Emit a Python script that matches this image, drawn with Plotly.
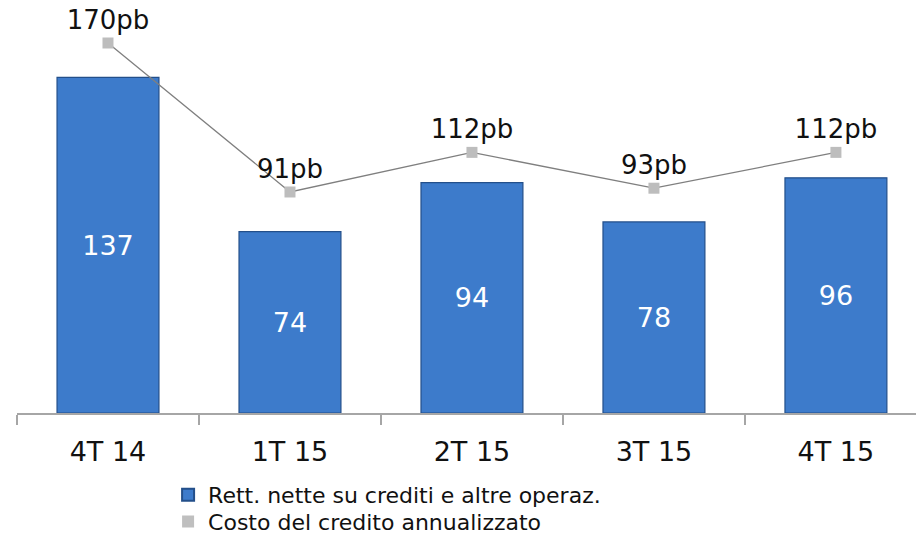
import plotly.graph_objects as go

# Quarterly data
quarters = ["4T 14", "1T 15", "2T 15", "3T 15", "4T 15"]
rettifiche = [137, 74, 94, 78, 96]          # net adjustments (bars)
costo_credito = [170, 91, 112, 93, 112]      # annualised cost of credit, bps (line)
costo_labels = [f"{v}pb" for v in costo_credito]

FONT = "DejaVu Sans"

fig = go.Figure()

fig.add_trace(go.Bar(
    x=quarters, y=rettifiche,
    name="Rett. nette su crediti e altre operaz.",
    marker=dict(color="#3D7BCB", line=dict(color="#234F8A", width=1.2)),
    width=0.56,
    text=[str(v) for v in rettifiche],
    textposition="inside", insidetextanchor="middle",
    textfont=dict(family=FONT, size=27, color="white"),
    yaxis="y", legend="legend",
))

fig.add_trace(go.Scatter(
    x=quarters, y=costo_credito,
    mode="lines+markers+text",
    line=dict(color="#7F7F7F", width=1.3),
    marker=dict(symbol="square", size=11, color="#BDBDBD"),
    text=costo_labels, textposition="top center",
    textfont=dict(family=FONT, size=26, color="#111111"),
    yaxis="y2", showlegend=False, cliponaxis=False,
))

# legend-only entry for the line series (square swatch)
fig.add_trace(go.Scatter(
    x=[None], y=[None], mode="markers",
    name="Costo del credito annualizzato",
    marker=dict(symbol="square", size=17, color="#BFBFBF"),
    yaxis="y2", legend="legend2",
))

legend_common = dict(
    xref="container", yref="container",
    xanchor="left", yanchor="top", orientation="v",
    font=dict(family=FONT, size=22, color="#111111"),
    itemsizing="constant", itemwidth=30,
    bgcolor="rgba(0,0,0,0)",
)

fig.update_layout(
    width=916, height=536,
    margin=dict(l=17, r=0, t=10, b=123, autoexpand=False),
    paper_bgcolor="white", plot_bgcolor="white",
    font=dict(family=FONT, color="#111111"),
    xaxis=dict(
        range=[-0.5, 4.44], automargin=False,
        showline=True, linecolor="#A6A6A6", linewidth=1.5,
        ticks="outside", ticklen=10, tickcolor="#A6A6A6", tickwidth=1.5,
        tickson="boundaries", showgrid=False, ticklabelstandoff=14,
        tickfont=dict(family=FONT, size=27, color="#111111"),
    ),
    yaxis=dict(range=[0, 164.5], visible=False, showgrid=False),
    yaxis2=dict(range=[-26.2, 187.5], overlaying="y", visible=False, showgrid=False),
    legend=dict(x=0.1835, y=0.1157, **legend_common),
    legend2=dict(x=0.1835, y=0.066, **legend_common),
    showlegend=True,
)

fig.write_html("out.html")
